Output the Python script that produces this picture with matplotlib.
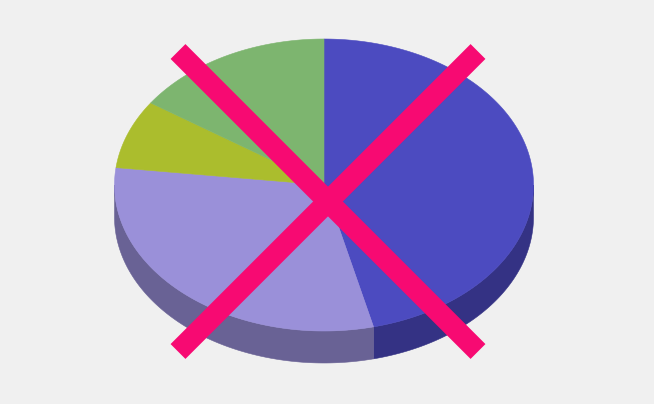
import numpy as np
import matplotlib
matplotlib.use("Agg")
import matplotlib.pyplot as plt

# Slice shares, clockwise from 12 o'clock
labels = ["blue", "lavender", "olive", "green"]
shares = [46.2, 30.7, 7.6, 15.5]
top_colors = ["#4c4bc0", "#9a90d9", "#abbd2d", "#7db56f"]
side_colors = ["#343284", "#696295", "#6f7a1d", "#51754a"]
background = "#f0f0f0"
cross_color = "#f70a72"

W, H = 654, 404
cx, cy, rx, ry, depth = 324.0, 185.0, 209.5, 146.0, 32.0

fig = plt.figure(figsize=(W / 100, H / 100), dpi=100, facecolor=background)
ax = fig.add_axes([0, 0, 1, 1])
ax.set_xlim(0, W)
ax.set_ylim(H, 0)
ax.axis("off")


def rim(a0, a1, n=200):
    t = np.radians(np.linspace(a0, a1, n))
    return cx + rx * np.sin(t), cy - ry * np.cos(t)


edges = np.concatenate([[0], np.cumsum(shares)]) / sum(shares) * 360

# Side wall: only the front half of the disc shows
for a0, a1, c in zip(edges[:-1], edges[1:], side_colors):
    lo, hi = max(a0, 90), min(a1, 270)
    if lo < hi:
        x, y = rim(lo, hi)
        ax.fill(np.r_[x, x[::-1]], np.r_[y, y[::-1] + depth], color=c, lw=0.4, zorder=1)

# Top face
for a0, a1, c in zip(edges[:-1], edges[1:], top_colors):
    x, y = rim(a0, a1)
    ax.fill(np.r_[cx, x], np.r_[cy, y], color=c, lw=0.4, zorder=2)

# Cross
for xs, ys in [((178, 478), (51.5, 351.5)), ((178, 478), (351.5, 51.5))]:
    ax.plot(xs, ys, color=cross_color, lw=21 * 72 / 100, solid_capstyle="butt", zorder=3)

fig.savefig("out.png", dpi=100, facecolor=background)
